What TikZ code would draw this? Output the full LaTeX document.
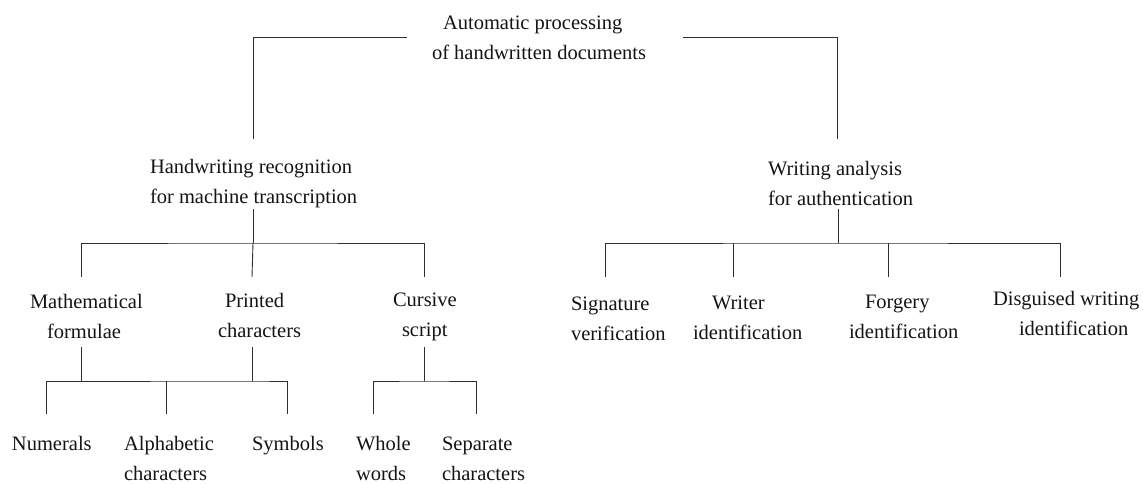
\documentclass[tikz,border=0pt]{standalone}
\usepackage{fontspec}
\setmainfont{Liberation Serif}
% two-line label, each line with its own left indent (in pt)
\newcommand\twoline[4]{\begin{tabular}[t]{@{}l@{}}\hspace*{#1pt}#2\\\hspace*{#3pt}#4\end{tabular}}
\begin{document}
\begin{tikzpicture}[x=1pt,y=-1pt,
  txt/.style={inner sep=0pt, outer sep=0pt, anchor=base west,
              font=\fontsize{20.5}{30}\selectfont, text=black!92},
  conn/.style={draw=black!82, line width=0.9pt}]
\useasboundingbox (0,0) rectangle (1143,483);

% ---- labels -------------------------------------------------------
\node[txt] (root)   at (432,29)  {\twoline{11}{Automatic processing}{0}{of handwritten documents}};

\node[txt] (hw)     at (150,173) {\twoline{0}{Handwriting recognition}{0}{for machine transcription}};
\node[txt] (wa)     at (768,175) {\twoline{0}{Writing analysis}{0}{for authentication}};

\node[txt] (math)   at (30,308)  {\twoline{0}{Mathematical}{17}{formulae}};
\node[txt] (print)  at (218,307) {\twoline{7}{Printed}{0}{characters}};
\node[txt] (curs)   at (393,306) {\twoline{0}{Cursive}{9}{script}};
\node[txt] (sig)    at (571,310) {\twoline{0}{Signature}{0}{verification}};
\node[txt] (writer) at (693,309) {\twoline{19}{Writer}{0}{identification}};
\node[txt] (forg)   at (849,308) {\twoline{16}{Forgery}{0}{identification}};
\node[txt] (disg)   at (993,305) {\twoline{0}{Disguised writing}{26}{identification}};

\node[txt] (num)    at (12,450)  {Numerals};
\node[txt] (alpha)  at (124,450) {\twoline{0}{Alphabetic}{0}{characters}};
\node[txt] (sym)    at (252,450) {Symbols};
\node[txt] (whole)  at (356,450) {\twoline{0}{Whole}{0}{words}};
\node[txt] (sep)    at (442,450) {\twoline{0}{Separate}{0}{characters}};

% ---- attachment points of the tree lines ---------------------------
\coordinate (root-l) at (407,37);   \coordinate (root-r) at (683,37);
\coordinate (hw-in)  at (253,139);  \coordinate (wa-in)  at (837,139);
\coordinate (hw-out) at (253,209);  \coordinate (hw-bus) at (253,243);
\coordinate (wa-out) at (838,209);  \coordinate (wa-bus) at (838,243);

\coordinate (math-in)   at (81,277);  \coordinate (print-in) at (252,277);
\coordinate (curs-in)   at (424,277);
\coordinate (sig-in)    at (605,277); \coordinate (writer-in) at (733,277);
\coordinate (forg-in)   at (888,277); \coordinate (disg-in)   at (1060,277);

\coordinate (math-out)  at (81,347);  \coordinate (print-out) at (252,347);
\coordinate (curs-out)  at (424,347);
\coordinate (print-bus) at (252,381); \coordinate (curs-bus)  at (424,381);

\coordinate (num-in)   at (46,414);  \coordinate (alpha-in) at (166,414);
\coordinate (sym-in)   at (287,414);
\coordinate (whole-in) at (373,414); \coordinate (sep-in)   at (476,414);

% ---- level 1 -> level 2 --------------------------------------------
\draw[conn] (root-l) -| (hw-in);
\draw[conn] (root-r) -| (wa-in);

% ---- recognition branch ---------------------------------------------
\draw[conn] (hw-out) -- (hw-bus);
\draw[conn] (math-in) |- (hw-bus) -| (curs-in);
\draw[conn] (hw-bus) -- (print-in);

\draw[conn] (num-in) |- (print-bus) -| (sym-in);
\draw[conn] (math-out) -- (math-out |- print-bus);
\draw[conn] (print-out) -- (print-bus);
\draw[conn] (alpha-in) -- (alpha-in |- print-bus);

\draw[conn] (curs-out) -- (curs-bus);
\draw[conn] (whole-in) |- (curs-bus) -| (sep-in);

% ---- authentication branch ------------------------------------------
\draw[conn] (wa-out) -- (wa-bus);
\draw[conn] (sig-in) |- (wa-bus) -| (disg-in);
\draw[conn] (writer-in) -- (writer-in |- wa-bus);
\draw[conn] (forg-in) -- (forg-in |- wa-bus);
\end{tikzpicture}
\end{document}
